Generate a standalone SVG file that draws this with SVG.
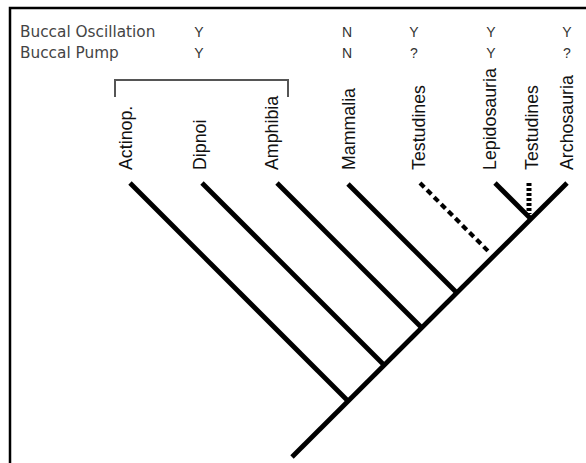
<svg xmlns="http://www.w3.org/2000/svg" width="586" height="463" viewBox="0 0 586 463">
<style>
.hdr{font-family:"DejaVu Sans",sans-serif;font-size:15.3px;fill:#444}
.yn{font-family:"Liberation Sans",Arial,sans-serif;font-size:14px;fill:#333;text-anchor:middle}
.lbl{font-family:"Liberation Sans",Arial,sans-serif;font-size:17.8px;fill:#111}
.br{stroke:#000;stroke-width:4.8;fill:none;stroke-linecap:butt}
.dash1{stroke:#000;stroke-width:4.2;fill:none;stroke-dasharray:6 4}
.dash2{stroke:#000;stroke-width:5;fill:none;stroke-dasharray:3 2}
</style>
<rect width="586" height="463" fill="#fff"/>
<g id="frame"><path d="M10,463 V8 H586" stroke="#000" stroke-width="2.5" fill="none"/></g>
<g id="header">
<text class="hdr" x="20" y="37">Buccal Oscillation</text>
<text class="hdr" x="20" y="58">Buccal Pump</text>
<text class="yn" x="199" y="37">Y</text><text class="yn" x="199" y="58">Y</text>
<text class="yn" x="347" y="37">N</text><text class="yn" x="347" y="58">N</text>
<text class="yn" x="414" y="37">Y</text><text class="yn" x="414" y="58">?</text>
<text class="yn" x="491" y="37">Y</text><text class="yn" x="491" y="58">Y</text>
<text class="yn" x="567" y="37">Y</text><text class="yn" x="567" y="58">?</text>
</g>
<g id="bracket"><path d="M115,97 V80 H288 V97" stroke="#555" stroke-width="2" fill="none"/></g>
<g id="actinop"><text class="lbl" transform="translate(132,170) rotate(-90)">Actinop.</text></g>
<g id="dipnoi"><text class="lbl" transform="translate(206,170) rotate(-90)">Dipnoi</text></g>
<g id="amphibia"><text class="lbl" transform="translate(278,170) rotate(-90)">Amphibia</text></g>
<g id="mammalia"><text class="lbl" transform="translate(355,170) rotate(-90)">Mammalia</text></g>
<g id="testudines1"><text class="lbl" transform="translate(425,170) rotate(-90)">Testudines</text></g>
<g id="lepidosauria"><text class="lbl" transform="translate(496,170) rotate(-90)">Lepidosauria</text></g>
<g id="testudines2"><text class="lbl" transform="translate(538,170) rotate(-90)">Testudines</text></g>
<g id="archosauria"><text class="lbl" transform="translate(573,170) rotate(-90)">Archosauria</text></g>
<g id="connectors">
<line class="br" x1="292" y1="457" x2="567" y2="183"/>
<line class="br" x1="130" y1="183" x2="348" y2="401"/>
<line class="br" x1="202" y1="183" x2="384" y2="365"/>
<line class="br" x1="277" y1="183" x2="421" y2="327"/>
<line class="br" x1="348" y1="184" x2="457" y2="293"/>
<line class="dash1" x1="420" y1="183" x2="490" y2="253"/>
<line class="br" x1="495" y1="183" x2="531" y2="219"/>
<line class="dash2" x1="529" y1="183" x2="529" y2="214"/>
</g>
</svg>
